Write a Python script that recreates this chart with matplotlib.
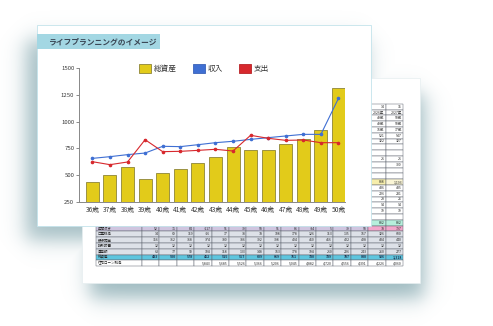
import numpy as np
import matplotlib
matplotlib.use("Agg")
import matplotlib.pyplot as plt
from matplotlib.patches import Rectangle, Patch

plt.rcParams['font.family'] = ['Noto Sans CJK JP', 'DejaVu Sans']

# ---------------- chart data ----------------
ages = ['36歳', '37歳', '38歳', '39歳', '40歳', '41歳', '42歳', '43歳',
        '44歳', '45歳', '46歳', '47歳', '48歳', '49歳', '50歳']
total_assets = [433, 500, 578, 462, 515, 557, 609, 669, 761, 730, 739, 787, 838, 926, 1318]
income = [656, 672, 691, 706, 769, 766, 784, 803, 816, 834, 850, 866, 881, 881, 1219]
expense = [625, 597, 622, 831, 719, 722, 731, 741, 725, 872, 844, 825, 828, 803, 803]
legend_labels = ['総資産', '収入', '支出']
yticks = [250, 500, 750, 1000, 1250, 1500]
title = 'ライフプランニングのイメージ'

# ---------------- background sheet table ----------------
upper_col14 = ['14', '2026年', '49歳', '49歳', '16歳', '521', '322', '', '', '21', '',
               '', '', '888', '436', '226', '28', '94', '19', '', '882']
upper_col15 = ['15', '2027年', '50歳', '50歳', '17歳', '547', '327', '', '', '21', '300',
               '', '', '1,193', '435', '231', '26', '94', '19', '', '882']
lower_labels = ['年間収支', '口座残高', '銀行預金', '財形貯蓄', '運用額', '総資産', '住宅ローン残高']
lower_values = [
    ['52', '71', '84', '-117', '51', '39', '58', '51', '86', '-34', '5', '39', '58', '78', '797'],
    ['14', '69', '119', '-16', '17', '38', '78', '108', '178', '126', '113', '135', '167', '326', '600'],
    ['356', '362', '368', '374', '380', '386', '392', '398', '404', '410', '416', '422', '428', '434', '440'],
    ['12', '12', '12', '12', '12', '12', '12', '12', '12', '12', '12', '12', '12', '12', '12'],
    ['63', '77', '90', '104', '118', '133', '148', '163', '178', '194', '210', '226', '243', '260', '277'],
    ['433', '500', '578', '462', '515', '557', '609', '669', '761', '730', '739', '787', '838', '926', '1,318'],
    ['', '', '', '5,843', '5,685', '5,526', '5,366', '5,206', '5,045', '4,882', '4,720', '4,556',
     '4,391', '4,226', '4,060'],
]

W, H = 493, 326
fig = plt.figure(figsize=(W / 100, H / 100), dpi=100)
fig.patch.set_facecolor('white')

bg = fig.add_axes([0, 0, 1, 1])
bg.set_xlim(0, W)
bg.set_ylim(H, 0)
bg.axis('off')

# soft shadows
yy, xx = np.mgrid[0:H, 0:W] + 0.5


def soft_rect(x0, x1, y0, y1, s):
    sx = 1 / (1 + np.exp(-(xx - x0) / s)) / (1 + np.exp(-(x1 - xx) / s))
    sy = 1 / (1 + np.exp(-(yy - y0) / s)) / (1 + np.exp(-(y1 - yy) / s))
    return sx * sy


sh = np.maximum(soft_rect(26, 366, 40, 240, 6) * 0.55,
                soft_rect(90, 424, 94, 298, 6) * 0.6)
img = np.zeros((H, W, 4))
img[..., :3] = np.array([90, 138, 148]) / 255
img[..., 3] = sh
bg.imshow(img, extent=(0, W, H, 0), zorder=1, interpolation='bilinear', aspect='auto')
bg.set_xlim(0, W)
bg.set_ylim(H, 0)

# back sheet
bg.add_patch(Rectangle((82, 78), 338, 205, facecolor='white', edgecolor='#e6eef0', lw=0.5, zorder=2))

tx0, lab_w, col_w, top, rh = 96, 46, 17.4, 103.8, 5.8
n_upper = len(upper_col14)
edge = '#5f6570'
for r in range(n_upper + len(lower_labels)):
    y = top + r * rh
    if r < n_upper:
        lab, vals = '', [''] * 13 + [upper_col14[r], upper_col15[r]]
        colors = ['white'] * 16
        if r == 13:
            colors[14] = '#f6eeab'
            colors[15] = '#fbf6d6'
        if r == 20:
            colors[14] = colors[15] = '#b6efdc'
    else:
        k = r - n_upper
        lab, vals = lower_labels[k], lower_values[k]
        if k == 0:
            colors = ['#cfc5df'] * 14 + ['#f2a7cb'] * 2
        elif k == 5:
            colors = ['#5ec5de'] * 16
        elif k == 6:
            colors = ['white'] * 16
        else:
            colors = ['#dde1e8'] * 16
    bg.add_patch(Rectangle((tx0, y), lab_w, rh, facecolor=colors[0], edgecolor=edge, lw=0.35, zorder=3))
    if lab:
        bg.text(tx0 + 1.5, y + rh / 2, lab, fontsize=2.5, va='center', ha='left', color='#2a2a2a', zorder=4)
    for c in range(15):
        x = tx0 + lab_w + c * col_w
        bg.add_patch(Rectangle((x, y), col_w, rh, facecolor=colors[c + 1], edgecolor=edge, lw=0.35, zorder=3))
        if vals[c]:
            bold = (r - n_upper == 5)
            bg.text(x + col_w - 1.2, y + rh / 2, vals[c], fontsize=2.5, va='center', ha='right',
                    color='#1d3550' if bold else '#2a2a2a', fontweight='bold' if bold else 'normal', zorder=4)

# front card
bg.add_patch(Rectangle((37, 25), 334, 201, facecolor='white', edgecolor='#c3e3eb', lw=0.6, zorder=5))
bg.add_patch(Rectangle((37, 34), 123, 14.5, facecolor='#a3d7e3', edgecolor='none', zorder=6))
bg.text(49, 41.3, title, fontsize=5.6, fontweight='bold', color='#3a4654', va='center', ha='left', zorder=7)

# ---------------- chart ----------------
ax = fig.add_axes([79 / W, 1 - 201.7 / H, (345 - 79) / W, (201.7 - 68.3) / H], zorder=10)
ax.patch.set_alpha(0)
x = np.arange(len(ages))
ax.bar(x, total_assets, width=0.74, color='#e2cb1a', edgecolor='#8d8536', linewidth=0.6, zorder=2)
ax.plot(x, income, color='#3f6fd3', lw=0.8, marker='o', ms=1.6, zorder=3)
ax.plot(x, expense, color='#d7282d', lw=0.8, marker='o', ms=1.6, zorder=3)
ax.set_xlim(-0.76, 14.37)
ax.set_ylim(250, 1500)
ax.set_yticks(yticks)
ax.set_yticklabels([str(v) for v in yticks], fontsize=4.3, color='#3a3a3a')
ax.set_xticks(x)
ax.set_xticklabels(ages, fontsize=4.8, color='#3a3a3a')
ax.tick_params(axis='x', length=0, pad=3)
ax.tick_params(axis='y', length=2.2, width=0.6, color='#777777', pad=1.2)
for s in ['top', 'right']:
    ax.spines[s].set_visible(False)
for s in ['left', 'bottom']:
    ax.spines[s].set_color('#888888')
    ax.spines[s].set_linewidth(0.7)

handles = [Patch(facecolor='#e2cb1a', edgecolor='#8d8536', lw=0.6),
           Patch(facecolor='#3f6fd3', edgecolor='#3a62b8', lw=0.6),
           Patch(facecolor='#d7282d', edgecolor='#b82226', lw=0.6)]
fig.legend(handles, legend_labels, loc='center', bbox_to_anchor=(204 / W, 1 - 68.3 / H),
           ncol=3, frameon=False, fontsize=5.5, handlelength=1.55, handleheight=1.55,
           handletextpad=0.4, columnspacing=2.1, borderpad=0, labelcolor='#333333')

fig.savefig('out.png', dpi=100, facecolor='white')
